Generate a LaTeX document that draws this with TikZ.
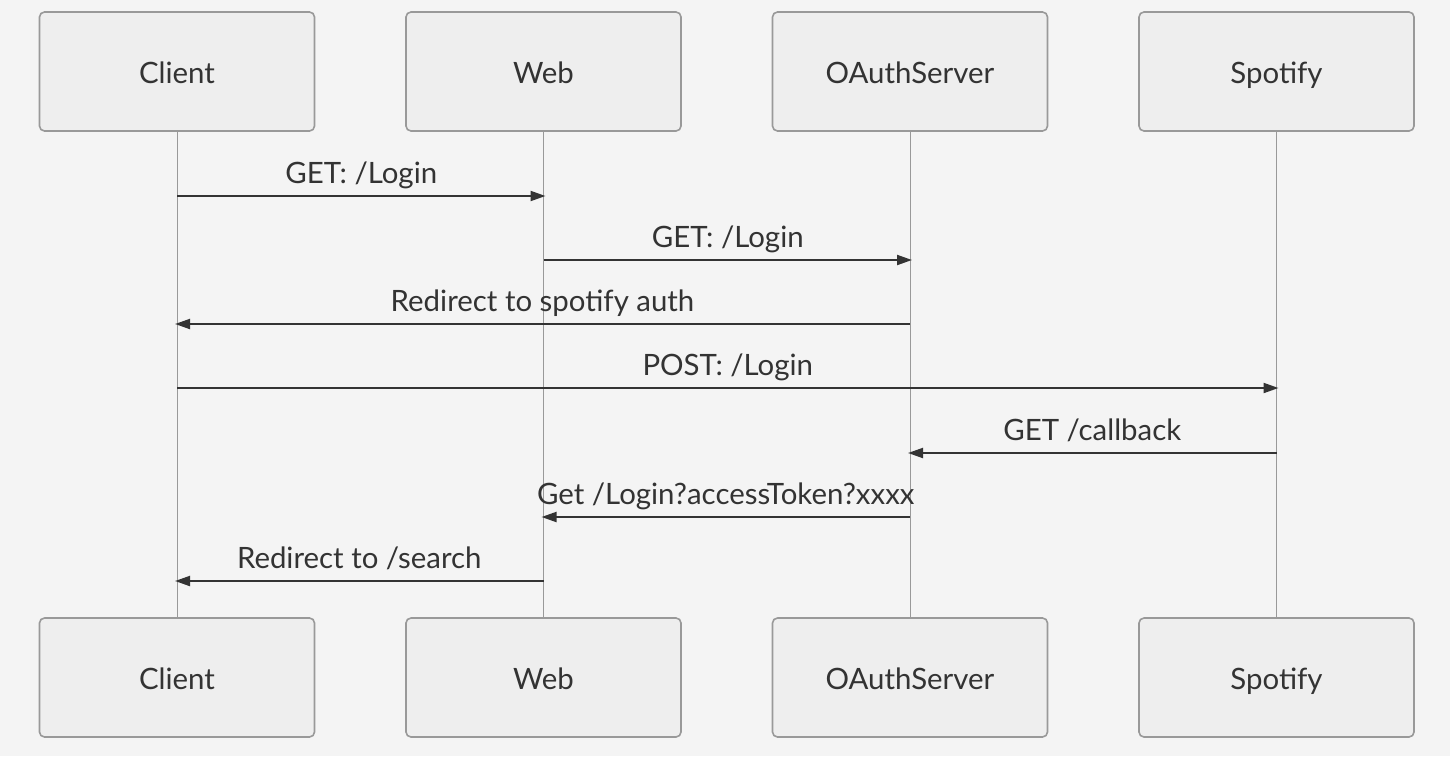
\documentclass[tikz,border=0pt]{standalone}
\usepackage{fontspec}
\setmainfont{Lato}
\usetikzlibrary{arrows.meta}
\definecolor{bg}{HTML}{F4F4F4}
\definecolor{boxfill}{HTML}{EEEEEE}
\definecolor{boxline}{HTML}{999999}
\definecolor{ink}{HTML}{333333}

\tikzset{
  actor/.style={draw=boxline, fill=boxfill, line width=1.6pt, rounded corners=5pt,
    minimum width=275pt, minimum height=119pt, inner sep=0pt, text=ink,
    text height=24pt, text depth=0pt,
    font=\fontsize{29.4}{34}\selectfont},
  life/.style={draw=boxline, line width=1pt},
  msg/.style={draw=ink, line width=2pt, -{Triangle[length=15pt,width=10pt]}},
  lbl/.style={midway, anchor=base, yshift=13pt, text=ink, inner sep=0pt,
    font=\fontsize{29.4}{34}\selectfont}
}

\begin{document}
\begin{tikzpicture}[x=1pt,y=-1pt]
\useasboundingbox[fill=bg] (0,0) rectangle (1450,756);

\node[actor] (ct) at (177,71.5) {Client};
\node[actor] (wt) at (543.5,71.5) {Web};
\node[actor] (ot) at (910,71.5) {OAuthServer};
\node[actor] (st) at (1276.5,71.5) {Spotify};

\node[actor] (cb) at (177,677.5) {Client};
\node[actor] (wb) at (543.5,677.5) {Web};
\node[actor] (ob) at (910,677.5) {OAuthServer};
\node[actor] (sb) at (1276.5,677.5) {Spotify};

\draw[life] (ct) -- (cb);
\draw[life] (wt) -- (wb);
\draw[life] (ot) -- (ob);
\draw[life] (st) -- (sb);

% messages
\draw[msg] (ct |- 0,196) -- node[lbl] {GET: /Login} ([xshift=2pt]wt |- 0,196);
\draw[msg] (wt |- 0,260) -- node[lbl] {GET: /Login} ([xshift=2pt]ot |- 0,260);
\draw[msg] (ot |- 0,324) -- node[lbl] {Redirect to spotify auth} ([xshift=-2pt]ct |- 0,324);
\draw[msg] (ct |- 0,388) -- node[lbl] {POST: /Login} ([xshift=2pt]st |- 0,388);
\draw[msg] (st |- 0,453) -- node[lbl] {GET /callback} ([xshift=-2pt]ot |- 0,453);
\draw[msg] (ot |- 0,517) -- node[lbl] {Get /Login?accessToken?xxxx} ([xshift=-2pt]wt |- 0,517);
\draw[msg] (wt |- 0,581) -- node[lbl] {Redirect to /search} ([xshift=-2pt]ct |- 0,581);
\end{tikzpicture}
\end{document}
